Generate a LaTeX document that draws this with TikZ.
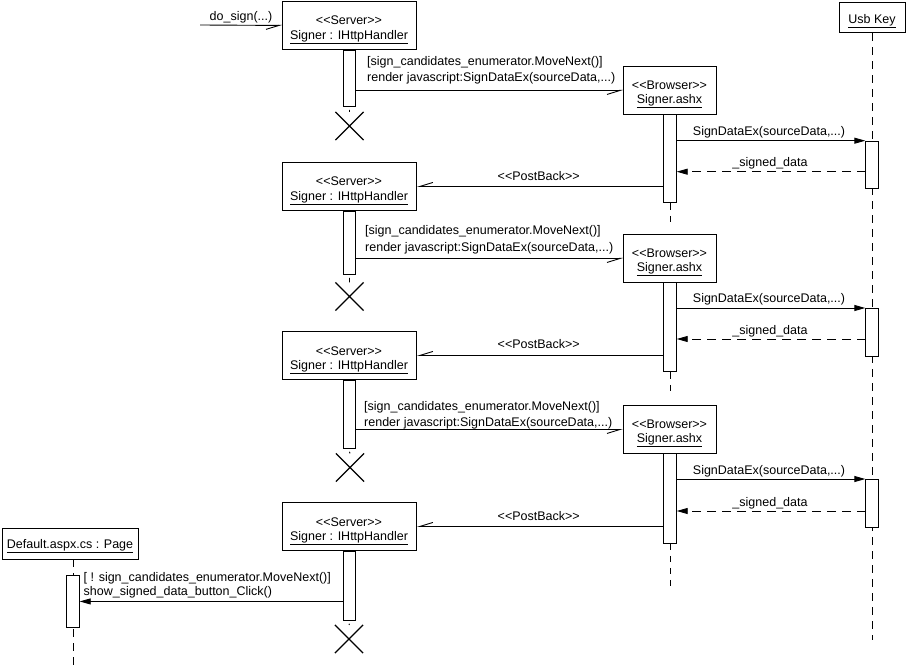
\documentclass[tikz,border=0pt]{standalone}
\usepackage{fontspec}
\setmainfont{Liberation Sans}
\usetikzlibrary{arrows.meta,shapes.misc}
\newcommand\lblfont{\fontsize{12.5}{15}\selectfont}
\newcommand\sterL{<\kern0pt<}
\newcommand\sterR{>\kern0pt>}
\tikzset{
 box/.style={draw, line width=0.9pt, fill=white, inner sep=0pt, anchor=north west},
 bar/.style={draw, line width=0.9pt, fill=white, inner sep=0pt, minimum width=12.5pt, anchor=north},
 txt/.style={inner sep=0pt, font=\lblfont},
 life/.style={line width=0.9pt, dash pattern=on 8pt off 6pt},
 msg/.style={line width=0.9pt},
 async/.style={msg, -{Straight Barb[harpoon, swap, length=13pt, width=8pt]}},
 sync/.style={msg, -{Triangle[length=11pt, width=6pt]}},
 ret/.style={msg, dash pattern=on 9pt off 6pt, -{Triangle[length=11pt, width=6pt]}},
 kill/.style={draw, cross out, line width=1.2pt, minimum size=27pt, inner sep=0pt},
}
\begin{document}
\begin{tikzpicture}[x=1pt,y=-1pt]
\useasboundingbox (0,0) rectangle (907,668);

% ---------- object boxes ----------
\node[box, minimum width=134pt, minimum height=48pt] (s1) at (282,1) {};
\node[box, minimum width=134pt, minimum height=48pt] (s2) at (282,162) {};
\node[box, minimum width=134pt, minimum height=48pt] (s3) at (282,331) {};
\node[box, minimum width=134pt, minimum height=48pt] (s4) at (282,502) {};
\node[box, minimum width=93pt, minimum height=48pt] (b1) at (623,66) {};
\node[box, minimum width=93pt, minimum height=48pt] (b2) at (623,234) {};
\node[box, minimum width=93pt, minimum height=48pt] (b3) at (623,405) {};
\node[box, minimum width=66pt, minimum height=30.5pt] (u) at (839,1.7) {};
\node[box, minimum width=136.5pt, minimum height=31pt] (d) at (1.7,528) {};

\foreach \n/\t in {s1/1,s2/162,s3/331,s4/502}{
  \node[txt, anchor=base] (\n a) at (349,\t+24) {\sterL Server\sterR};
  \node[txt, anchor=base] (\n b) at (349,\t+38.3) {\underline{Signer : IHttpHandler}};
}
\foreach \n/\t in {b1/66,b2/234,b3/405}{
  \node[txt, anchor=base] (\n a) at (669.5,\t+23.5) {\sterL Browser\sterR};
  \node[txt, anchor=base] (\n b) at (669.5,\t+37.5) {\underline{Signer.ashx}};
}
\node[txt, anchor=base] (ut) at (872,23.3) {\underline{Usb Key}};
\node[txt, anchor=base] (dt) at (70,548.3) {\underline{Default.aspx.cs : Page}};

% ---------- lifelines ----------
\coordinate (uend) at (872,640);
\draw[life] (u.south -| uend) -- (uend);
\coordinate (dtop) at (73,559);
\coordinate (dend) at (73,668);
\draw[life] (dtop) -- (dend);

% ---------- activation bars ----------
\node[bar, minimum height=56pt] (sb1) at (s1.south) {};
\node[bar, minimum height=63pt] (sb2) at (s2.south) {};
\node[bar, minimum height=68pt] (sb3) at (s3.south) {};
\node[bar, minimum height=69pt] (sb4) at (s4.south) {};
\node[bar, minimum height=88pt] (bb1) at (670,114) {};
\node[bar, minimum height=89pt] (bb2) at (670,282) {};
\node[bar, minimum height=90pt] (bb3) at (670,453) {};
\node[bar, minimum height=47pt] (ub1) at (872,140.7) {};
\node[bar, minimum height=48pt] (ub2) at (872,308) {};
\node[bar, minimum height=48pt] (ub3) at (872,479) {};
\node[bar, minimum height=52pt] (db) at (73,575) {};

% browser lifeline tails
\coordinate (bt1) at (670,222);
\coordinate (bt2) at (670,391);
\coordinate (bt3) at (670,590);
\draw[life, dash pattern=on 7pt off 6pt] (bb1.south) -- (bt1);
\draw[life, dash pattern=on 7pt off 6pt] (bb2.south) -- (bt2);
\draw[life, dash pattern=on 6pt off 6pt] (bb3.south) -- (bt3);

% ---------- destruction marks ----------
\node[kill] (x1) at (349.5,126) {};
\node[kill] (x2) at (349.5,296.5) {};
\node[kill] (x3) at (350,467.5) {};
\node[kill] (x4) at (349,639) {};
\foreach \i in {1,2,3,4}{
  \draw[msg] ([yshift=-3pt]sb\i.south) -- (x\i.north);
}

% ---------- messages ----------
\coordinate (ds) at (200,25);
\draw[async] (ds) -- (s1.west);
\node[txt, anchor=base] (dsl) at (241,21) {do\_sign(...)};

% server -> browser
\draw[async] (sb1.east |- b1.west) -- (b1.west);
\draw[async] (sb2.east |- b2.west) -- (b2.west);
\draw[async] (sb3.east |- b3.west) -- (b3.west);
\node[txt, anchor=base west] (m1a) at (367,65.5) {[sign\_candidates\_enumerator.MoveNext()]};
\node[txt, anchor=base west] (m1b) at (367,82) {render javascript:SignDataEx(sourceData,...)};
\node[txt, anchor=base west] (m2a) at (365,235) {[sign\_candidates\_enumerator.MoveNext()]};
\node[txt, anchor=base west] (m2b) at (365,251.5) {render javascript:SignDataEx(sourceData,...)};
\node[txt, anchor=base west] (m3a) at (364,410) {[sign\_candidates\_enumerator.MoveNext()]};
\node[txt, anchor=base west] (m3b) at (364,426) {render javascript:SignDataEx(sourceData,...)};

% browser -> usb key
\draw[sync] (bb1.east |- ub1.north west) -- (ub1.north west);
\draw[sync] (bb2.east |- ub2.north west) -- (ub2.north west);
\draw[sync] (bb3.east |- ub3.north west) -- (ub3.north west);
\node[txt, anchor=base] (k1) at (769,135.2) {SignDataEx(sourceData,...)};
\node[txt, anchor=base] (k2) at (769,302.5) {SignDataEx(sourceData,...)};
\node[txt, anchor=base] (k3) at (769,474) {SignDataEx(sourceData,...)};

% usb key -> browser (return)
\coordinate (r1) at (866,171.7);
\coordinate (r2) at (866,339);
\coordinate (r3) at (866,511);
\draw[ret] (r1) -- (r1 -| bb1.east);
\draw[ret] (r2) -- (r2 -| bb2.east);
\draw[ret] (r3) -- (r3 -| bb3.east);
\node[txt, anchor=base] (g1) at (770,167) {\_signed\_data};
\node[txt, anchor=base] (g2) at (770,334.5) {\_signed\_data};
\node[txt, anchor=base] (g3) at (770,506.5) {\_signed\_data};

% browser -> server (postback)
\draw[async] (bb1.west |- s2.east) -- (s2.east);
\draw[async] (bb2.west |- s3.east) -- (s3.east);
\draw[async] (bb3.west |- s4.east) -- (s4.east);
\node[txt, anchor=base] (p1) at (538.7,180.3) {\sterL PostBack\sterR};
\node[txt, anchor=base] (p2) at (538.7,348.5) {\sterL PostBack\sterR};
\node[txt, anchor=base] (p3) at (538.7,520) {\sterL PostBack\sterR};

% server -> default page
\draw[sync] (sb4.west |- db.east) -- (db.east);
\node[txt, anchor=base west] (fa) at (83.5,581.5) {[ ! sign\_candidates\_enumerator.MoveNext()]};
\node[txt, anchor=base west] (fb) at (83.5,595) {show\_signed\_data\_button\_Click()};
\end{tikzpicture}
\end{document}
